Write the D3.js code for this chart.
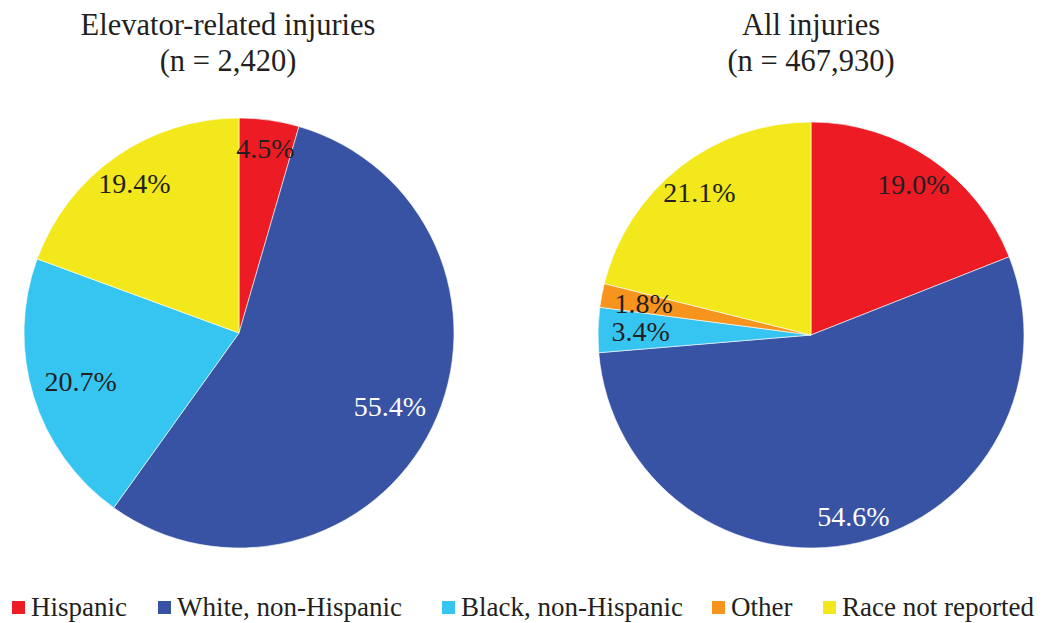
<!DOCTYPE html>
<html><head><meta charset="utf-8">
<script src="https://cdn.jsdelivr.net/npm/d3@7"></script>
<style>body{margin:0;background:#fff}svg{display:block}</style>
</head><body><svg id="c" width="1048" height="623"></svg>
<script>
const categories = ["Hispanic","White, non-Hispanic","Black, non-Hispanic","Other","Race not reported"];
const colors = ["#ED1C24","#3953A4","#36C5F0","#F7941D","#F2E81B"];
const elevatorValues = [4.5, 55.4, 20.7, 0, 19.4];
const allValues = [19.0, 54.6, 3.4, 1.8, 21.1];
const titles = [["Elevator-related injuries","(n = 2,420)"],["All injuries","(n = 467,930)"]];
const labelRadius = [[0.87,0.78,0.77,0.8,0.85],[0.855,0.875,0.8,0.8,0.85]];
const FONT = "Liberation Serif";

const svg = d3.select("#c");
const pies = [
  {values: elevatorValues, cx: 239, cy: 333, r: 215, tx: 228},
  {values: allValues, cx: 811, cy: 335, r: 213, tx: 811}
];
const pie = d3.pie().sort(null).value(d => d.v);
pies.forEach((p, pi) => {
  const data = p.values.map((v, i) => ({v, i}));
  const arcs = pie(data);
  const g = svg.append("g").attr("transform", `translate(${p.cx},${p.cy})`);
  const arc = d3.arc().innerRadius(0).outerRadius(p.r);
  g.selectAll("path").data(arcs.filter(a => a.data.v > 0)).join("path")
    .attr("d", arc).attr("fill", d => colors[d.data.i])
    .attr("stroke", "#fff").attr("stroke-width", 0.6);
  g.selectAll("text.lab").data(arcs.filter(a => a.data.v > 0)).join("text")
    .attr("class","lab")
    .attr("font-family", FONT)
    .attr("transform", d => {
      const a = (d.startAngle + d.endAngle) / 2;
      const rr = p.r * labelRadius[pi][d.data.i];
      return `translate(${Math.sin(a)*rr},${-Math.cos(a)*rr})`;
    })
    .attr("text-anchor","middle").attr("dy","0.35em")
    .attr("font-size", 28)
    .attr("fill", d => d.data.i === 1 ? "#fff" : "#231f20")
    .text(d => d.data.v.toFixed(1) + "%");
  [0,1].forEach(k => svg.append("text").attr("x", p.tx).attr("y", k ? 71 : 35)
    .attr("text-anchor","middle").attr("font-family", FONT).attr("font-size", 30.5)
    .attr("fill","#231f20").text(titles[pi][k]));
});

const legendX = [12, 158, 442, 712, 823];
const lg = svg.append("g");
categories.forEach((c, i) => {
  lg.append("rect").attr("x", legendX[i]).attr("y", 601).attr("width", 13).attr("height", 13).attr("fill", colors[i]);
  lg.append("text").attr("x", legendX[i] + 19).attr("y", 616).attr("font-family", FONT)
    .attr("font-size", 27).attr("fill","#231f20").text(c);
});
</script></body></html>
